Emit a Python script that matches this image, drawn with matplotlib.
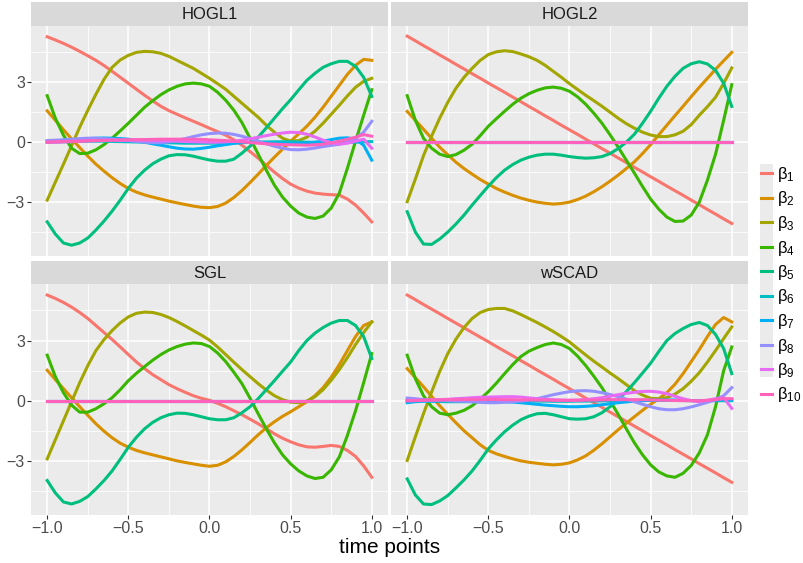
import matplotlib.pyplot as plt
from matplotlib.patches import Rectangle

plt.rcParams['font.family'] = ['Liberation Sans', 'DejaVu Sans']
plt.rcParams['mathtext.fontset'] = 'custom'
plt.rcParams['mathtext.rm'] = 'Liberation Sans'
plt.rcParams['mathtext.it'] = 'Liberation Sans:italic'

# ======================
# Data
# ======================
t = [-1.0, -0.95, -0.9, -0.85, -0.8, -0.75, -0.7, -0.65, -0.6, -0.55, -0.5,
     -0.45, -0.4, -0.35, -0.3, -0.25, -0.2, -0.15, -0.1, -0.05, 0.0,
     0.05, 0.1, 0.15, 0.2, 0.25, 0.3, 0.35, 0.4, 0.45, 0.5,
     0.55, 0.6, 0.65, 0.7, 0.75, 0.8, 0.85, 0.9, 0.95, 1.0]

zero_line = [0.0] * len(t)

# HOGL1
hogl1_b1 = [5.28, 5.12, 4.95, 4.76, 4.55, 4.33, 4.1, 3.84, 3.55, 3.25, 2.95,
            2.65, 2.35, 2.07, 1.8, 1.58, 1.4, 1.22, 1.05, 0.88, 0.7,
            0.53, 0.35, 0.12, -0.15, -0.47, -0.8, -1.15, -1.5, -1.82, -2.1,
            -2.3, -2.45, -2.55, -2.6, -2.63, -2.65, -2.85, -3.15, -3.55, -3.99]
hogl1_b2 = [1.57, 1.1, 0.62, 0.17, -0.27, -0.7, -1.1, -1.45, -1.78, -2.07, -2.32,
            -2.5, -2.64, -2.75, -2.85, -2.95, -3.04, -3.12, -3.2, -3.26, -3.28,
            -3.22, -3.05, -2.77, -2.42, -2.02, -1.6, -1.17, -0.75, -0.35, 0.05,
            0.42, 0.8, 1.25, 1.75, 2.3, 2.85, 3.4, 3.85, 4.15, 4.1]
hogl1_b3 = [-2.9, -2.0, -1.1, -0.18, 0.75, 1.6, 2.4, 3.15, 3.75, 4.12, 4.35,
            4.5, 4.55, 4.53, 4.45, 4.3, 4.1, 3.9, 3.7, 3.45, 3.2,
            2.93, 2.65, 2.3, 1.95, 1.6, 1.25, 0.85, 0.5, 0.2, 0.05,
            0.08, 0.25, 0.55, 0.95, 1.4, 1.85, 2.32, 2.75, 3.05, 3.2]
hogl1_b4 = [2.33, 1.2, 0.35, -0.3, -0.57, -0.55, -0.38, -0.12, 0.2, 0.57, 0.95,
            1.35, 1.75, 2.08, 2.38, 2.62, 2.8, 2.92, 2.96, 2.92, 2.8,
            2.5, 2.1, 1.6, 0.98, 0.2, -0.6, -1.4, -2.15, -2.75, -3.2,
            -3.55, -3.75, -3.82, -3.7, -3.3, -2.55, -1.3, 0.05, 1.35, 2.63]
hogl1_b5 = [-3.99, -4.6, -5.05, -5.16, -5.05, -4.8, -4.4, -3.95, -3.45, -2.9, -2.31,
            -1.8, -1.4, -1.08, -0.85, -0.68, -0.62, -0.63, -0.7, -0.8, -0.89,
            -0.95, -0.95, -0.85, -0.55, -0.2, 0.25, 0.72, 1.2, 1.68, 2.13,
            2.62, 3.1, 3.45, 3.75, 3.93, 4.05, 4.05, 3.8, 3.25, 2.29]
hogl1_b6 = [0, 0.01, 0.02, 0.03, 0.04, 0.05, 0.05, 0.05, 0.04, 0.03, 0.02,
            0.01, 0, -0.01, -0.02, -0.03, -0.04, -0.05, -0.05, -0.05, -0.05,
            -0.05, -0.04, -0.03, -0.02, -0.01, 0, 0.01, 0.02, 0.02, 0.02,
            0.01, 0, -0.01, -0.02, -0.02, -0.02, -0.01, 0, 0.02, 0.03]
hogl1_b7 = [0.05, 0.07, 0.1, 0.12, 0.15, 0.18, 0.2, 0.21, 0.2, 0.18, 0.15,
            0.08, 0.0, -0.08, -0.15, -0.23, -0.3, -0.34, -0.35, -0.31, -0.25,
            -0.18, -0.12, -0.06, -0.02, 0.0, 0.0, -0.02, -0.05, -0.07, -0.08,
            -0.07, -0.05, 0.0, 0.05, 0.13, 0.2, 0.22, 0.15, -0.15, -0.9]
hogl1_b8 = [0.08, 0.1, 0.12, 0.15, 0.18, 0.2, 0.2, 0.18, 0.15, 0.11, 0.08,
            0.04, 0.0, -0.02, -0.03, 0.02, 0.1, 0.18, 0.28, 0.37, 0.43,
            0.46, 0.45, 0.39, 0.3, 0.18, 0.05, -0.08, -0.2, -0.3, -0.37,
            -0.38, -0.35, -0.29, -0.22, -0.16, -0.1, 0.02, 0.2, 0.5, 1.05]
hogl1_b9 = [0, 0, 0.02, 0.03, 0.05, 0.07, 0.08, 0.09, 0.1, 0.1, 0.1,
            0.1, 0.1, 0.09, 0.08, 0.07, 0.05, 0.03, 0.02, 0.01, 0,
            0.0, 0.02, 0.05, 0.1, 0.17, 0.25, 0.33, 0.4, 0.46, 0.5,
            0.48, 0.4, 0.26, 0.1, -0.03, -0.1, -0.05, 0.05, 0.15, -0.3]
hogl1_b10 = [0, 0.02, 0.03, 0.04, 0.05, 0.07, 0.08, 0.09, 0.1, 0.11, 0.12,
             0.13, 0.13, 0.14, 0.15, 0.15, 0.15, 0.15, 0.15, 0.14, 0.12,
             0.1, 0.08, 0.05, 0.02, -0.02, -0.05, -0.08, -0.1, -0.12, -0.13,
             -0.14, -0.15, -0.13, -0.1, -0.03, 0.05, 0.15, 0.25, 0.38, 0.3]

# HOGL2
hogl2_b1 = [5.31, 5.08, 4.84, 4.61, 4.37, 4.14, 3.9, 3.67, 3.43, 3.2, 2.96,
            2.73, 2.5, 2.26, 2.03, 1.79, 1.56, 1.32, 1.09, 0.85, 0.62,
            0.39, 0.15, -0.08, -0.32, -0.55, -0.79, -1.02, -1.26, -1.49, -1.73,
            -1.96, -2.2, -2.43, -2.66, -2.9, -3.13, -3.37, -3.6, -3.84, -4.07]
hogl2_b2 = [1.54, 1.1, 0.65, 0.2, -0.25, -0.63, -1.0, -1.32, -1.6, -1.87, -2.1,
            -2.32, -2.5, -2.66, -2.8, -2.91, -3.0, -3.06, -3.1, -3.07, -3.0,
            -2.87, -2.7, -2.48, -2.23, -1.95, -1.65, -1.32, -0.98, -0.57, -0.12,
            0.37, 0.85, 1.33, 1.8, 2.28, 2.75, 3.2, 3.65, 4.08, 4.5]
hogl2_b3 = [-2.98, -1.85, -0.68, 0.3, 1.2, 2.0, 2.7, 3.25, 3.7, 4.1, 4.39,
            4.53, 4.58, 4.54, 4.42, 4.28, 4.1, 3.85, 3.55, 3.25, 2.93,
            2.64, 2.35, 2.08, 1.8, 1.5, 1.2, 0.93, 0.7, 0.5, 0.36,
            0.28, 0.28, 0.37, 0.55, 0.88, 1.35, 1.78, 2.25, 2.95, 3.72]
hogl2_b4 = [2.33, 1.1, 0.2, -0.3, -0.6, -0.72, -0.62, -0.4, -0.1, 0.33, 0.8,
            1.18, 1.55, 1.9, 2.2, 2.43, 2.6, 2.72, 2.76, 2.7, 2.55,
            2.27, 1.9, 1.45, 0.95, 0.37, -0.25, -0.9, -1.55, -2.22, -2.85,
            -3.35, -3.75, -3.97, -3.95, -3.65, -3.0, -1.9, -0.6, 1.1, 2.88]
hogl2_b5 = [-3.48, -4.5, -5.1, -5.12, -4.85, -4.5, -4.1, -3.65, -3.15, -2.67, -2.2,
            -1.77, -1.4, -1.12, -0.9, -0.75, -0.65, -0.6, -0.6, -0.65, -0.72,
            -0.77, -0.8, -0.78, -0.72, -0.57, -0.32, 0.0, 0.4, 0.95, 1.55,
            2.2, 2.8, 3.3, 3.7, 3.93, 4.03, 3.92, 3.6, 2.95, 1.79]

# SGL
sgl_b1 = [5.27, 5.1, 4.9, 4.67, 4.4, 4.1, 3.75, 3.4, 3.05, 2.68, 2.3,
          1.93, 1.6, 1.3, 1.05, 0.8, 0.6, 0.42, 0.25, 0.12, 0.02,
          -0.13, -0.3, -0.5, -0.7, -0.92, -1.15, -1.4, -1.65, -1.87, -2.05,
          -2.2, -2.3, -2.32, -2.28, -2.23, -2.28, -2.48, -2.78, -3.25, -3.82]
sgl_b2 = [1.52, 1.05, 0.6, 0.15, -0.3, -0.73, -1.15, -1.52, -1.85, -2.12, -2.32,
          -2.48, -2.6, -2.7, -2.8, -2.9, -3.0, -3.08, -3.15, -3.22, -3.27,
          -3.22, -3.05, -2.78, -2.45, -2.08, -1.7, -1.35, -1.05, -0.78, -0.55,
          -0.3, -0.05, 0.25, 0.65, 1.17, 1.8, 2.5, 3.2, 3.75, 3.93]
sgl_b3 = [-2.9, -1.95, -1.0, -0.05, 0.9, 1.75, 2.5, 3.05, 3.5, 3.88, 4.18,
          4.36, 4.42, 4.4, 4.3, 4.15, 3.95, 3.73, 3.5, 3.27, 3.02,
          2.68, 2.3, 1.92, 1.55, 1.2, 0.85, 0.53, 0.25, 0.05, -0.07,
          -0.1, -0.02, 0.2, 0.55, 1.02, 1.55, 2.15, 2.8, 3.4, 3.93]
sgl_b4 = [2.27, 1.2, 0.4, -0.22, -0.57, -0.57, -0.4, -0.15, 0.15, 0.55, 1.0,
          1.37, 1.7, 2.02, 2.3, 2.53, 2.7, 2.82, 2.88, 2.85, 2.7,
          2.38, 1.95, 1.42, 0.85, 0.12, -0.65, -1.4, -2.1, -2.7, -3.15,
          -3.5, -3.75, -3.88, -3.82, -3.45, -2.8, -1.73, -0.5, 0.9, 2.35]
sgl_b5 = [-3.98, -4.6, -5.05, -5.15, -5.02, -4.78, -4.4, -3.98, -3.5, -2.92, -2.32,
          -1.82, -1.4, -1.08, -0.85, -0.7, -0.62, -0.63, -0.7, -0.8, -0.9,
          -0.95, -0.95, -0.85, -0.6, -0.3, 0.1, 0.55, 1.0, 1.47, 1.93,
          2.5, 3.0, 3.37, 3.65, 3.87, 4.0, 4.0, 3.75, 3.2, 2.1]

# wSCAD
wscad_b1 = [5.27, 5.04, 4.8, 4.57, 4.34, 4.1, 3.87, 3.64, 3.4, 3.17, 2.94,
            2.7, 2.47, 2.24, 2.0, 1.77, 1.53, 1.3, 1.07, 0.83, 0.6,
            0.37, 0.13, -0.1, -0.33, -0.57, -0.8, -1.03, -1.27, -1.5, -1.74,
            -1.97, -2.2, -2.44, -2.67, -2.9, -3.14, -3.37, -3.6, -3.84, -4.07]
wscad_b2 = [1.6, 1.15, 0.7, 0.22, -0.25, -0.68, -1.1, -1.5, -1.85, -2.2, -2.48,
            -2.65, -2.78, -2.9, -3.0, -3.07, -3.12, -3.17, -3.2, -3.17, -3.1,
            -2.95, -2.75, -2.47, -2.15, -1.8, -1.45, -1.12, -0.8, -0.48, -0.18,
            0.1, 0.4, 0.82, 1.35, 1.95, 2.55, 3.2, 3.8, 4.15, 3.93]
wscad_b3 = [-2.98, -1.8, -0.65, 0.43, 1.46, 2.35, 3.07, 3.65, 4.1, 4.4, 4.55,
            4.6, 4.6, 4.48, 4.3, 4.1, 3.9, 3.68, 3.45, 3.2, 2.93,
            2.6, 2.28, 1.97, 1.68, 1.38, 1.1, 0.8, 0.5, 0.28, 0.12,
            0.1, 0.15, 0.33, 0.6, 0.97, 1.4, 1.93, 2.5, 3.1, 3.68]
wscad_b4 = [2.27, 1.1, 0.25, -0.3, -0.62, -0.7, -0.62, -0.48, -0.25, 0.08, 0.45,
            0.88, 1.35, 1.8, 2.2, 2.47, 2.65, 2.8, 2.88, 2.8, 2.6,
            2.22, 1.75, 1.22, 0.65, 0.0, -0.68, -1.4, -2.1, -2.7, -3.2,
            -3.55, -3.75, -3.82, -3.62, -3.23, -2.6, -1.7, -0.3, 1.5, 2.68]
wscad_b5 = [-3.9, -4.7, -5.15, -5.18, -5.0, -4.73, -4.35, -3.95, -3.5, -2.97, -2.4,
            -1.95, -1.55, -1.22, -0.95, -0.77, -0.65, -0.63, -0.7, -0.8, -0.9,
            -0.92, -0.9, -0.8, -0.6, -0.3, 0.05, 0.45, 0.9, 1.38, 1.87,
            2.45, 3.0, 3.35, 3.6, 3.8, 3.9, 3.75, 3.3, 2.6, 1.35]
wscad_b6 = [0, -0.01, -0.02, -0.03, -0.04, -0.05, -0.05, -0.05, -0.05, -0.05, -0.04,
            -0.04, -0.03, -0.02, -0.02, -0.02, -0.02, -0.02, -0.03, -0.03, -0.03,
            -0.02, -0.02, -0.01, -0.01, 0, 0, 0.01, 0.01, 0.02, 0.02,
            0.02, 0.02, 0.02, 0.01, 0, 0, 0, 0, 0, 0]
wscad_b7 = [-0.1, -0.05, -0.02, -0.01, 0.0, 0.01, 0.02, 0.02, 0.02, 0.01, 0.0,
            -0.02, -0.05, -0.07, -0.1, -0.14, -0.18, -0.22, -0.25, -0.28, -0.3,
            -0.3, -0.28, -0.25, -0.2, -0.15, -0.1, -0.06, -0.02, 0.0, 0.02,
            0.03, 0.03, 0.03, 0.02, 0.01, 0.0, 0.01, 0.02, 0.05, 0.05]
wscad_b8 = [0.13, 0.1, 0.05, 0.03, 0.02, 0.0, -0.02, -0.03, -0.05, -0.08, -0.1,
            -0.1, -0.08, -0.05, -0.02, 0.03, 0.1, 0.2, 0.3, 0.38, 0.45,
            0.49, 0.5, 0.47, 0.4, 0.31, 0.2, 0.08, -0.05, -0.18, -0.3,
            -0.4, -0.45, -0.45, -0.4, -0.31, -0.2, -0.08, 0.05, 0.25, 0.65]
wscad_b9 = [0.0, 0.02, 0.03, 0.04, 0.05, 0.07, 0.1, 0.12, 0.15, 0.17, 0.18,
            0.19, 0.2, 0.2, 0.18, 0.14, 0.1, 0.07, 0.05, 0.03, 0.02,
            0.03, 0.05, 0.1, 0.15, 0.22, 0.3, 0.37, 0.42, 0.46, 0.47,
            0.43, 0.35, 0.22, 0.1, 0.0, -0.05, 0.02, 0.1, 0.15, -0.38]
wscad_b10 = [0.0, 0.0, 0.02, 0.03, 0.04, 0.05, 0.05, 0.06, 0.06, 0.06, 0.06,
             0.06, 0.05, 0.05, 0.04, 0.04, 0.03, 0.03, 0.02, 0.02, 0.02,
             0.02, 0.03, 0.03, 0.04, 0.05, 0.05, 0.05, 0.05, 0.05, 0.04,
             0.03, 0.02, 0.01, 0.0, 0.0, 0.0, 0.02, 0.05, 0.1, 0.1]

panels = {
    'HOGL1': [hogl1_b1, hogl1_b2, hogl1_b3, hogl1_b4, hogl1_b5,
              hogl1_b6, hogl1_b7, hogl1_b8, hogl1_b9, hogl1_b10],
    'HOGL2': [hogl2_b1, hogl2_b2, hogl2_b3, hogl2_b4, hogl2_b5,
              zero_line, zero_line, zero_line, zero_line, zero_line],
    'SGL': [sgl_b1, sgl_b2, sgl_b3, sgl_b4, sgl_b5,
            zero_line, zero_line, zero_line, zero_line, zero_line],
    'wSCAD': [wscad_b1, wscad_b2, wscad_b3, wscad_b4, wscad_b5,
              wscad_b6, wscad_b7, wscad_b8, wscad_b9, wscad_b10],
}

labels = ['β$_{%d}$' % i for i in range(1, 11)]
colors = ['#F8766D', '#D89000', '#A3A500', '#39B600', '#00BF7D',
          '#00BFC4', '#00B0F6', '#9590FF', '#E76BF3', '#FF62BC']

x_ticks = [-1, -0.5, 0, 0.5, 1]
x_tick_labels = ['\u22121.0', '\u22120.5', '0.0', '0.5', '1.0']
y_ticks = [-3, 0, 3]
y_tick_labels = ['\u22123', '0', '3']

# ======================
# Layout (pixels)
# ======================
W, H = 804, 563
fig = plt.figure(figsize=(W / 100, H / 100), dpi=100)


def box(x0, y0, x1, y1):
    return [x0 / W, 1 - y1 / H, (x1 - x0) / W, (y1 - y0) / H]


layout = {
    'HOGL1': ((31, 26, 388, 256), 2, True, False),
    'HOGL2': ((391, 26, 748, 256), 2, False, False),
    'SGL': ((31, 284, 388, 515), 261, True, True),
    'wSCAD': ((391, 284, 748, 515), 261, False, True),
}

handles = []
for name, ((x0, y0, x1, y1), sy, show_y, show_x) in layout.items():
    ax = fig.add_axes(box(x0, y0, x1, y1))
    ax.set_facecolor('#EBEBEB')
    for s in ax.spines.values():
        s.set_visible(False)
    ax.set_xlim(-1.1, 1.1)
    ax.set_ylim(-5.7, 5.82)
    ax.set_xticks(x_ticks)
    ax.set_xticks([-0.75, -0.25, 0.25, 0.75], minor=True)
    ax.set_yticks(y_ticks)
    ax.set_yticks([-4.5, -1.5, 1.5, 4.5], minor=True)
    ax.grid(which='major', color='white', lw=1.1)
    ax.grid(which='minor', color='white', lw=0.55)
    ax.set_axisbelow(True)
    ax.tick_params(which='minor', length=0)
    ax.tick_params(which='major', length=2.9, width=0.8, color='#333333',
                   labelcolor='#4D4D4D', labelsize=11.5, pad=1.5)

    if show_x:
        ax.set_xticklabels(x_tick_labels)
    else:
        ax.tick_params(axis='x', which='major', length=0, labelbottom=False)
    if show_y:
        ax.set_yticklabels(y_tick_labels)
    else:
        ax.tick_params(axis='y', which='major', length=0, labelleft=False)

    for vals, c, lab in zip(panels[name], colors, labels):
        ln, = ax.plot(t, vals, color=c, lw=2.2, label=lab,
                      solid_joinstyle='round')
        if name == 'HOGL1':
            handles.append(ln)

    # strip
    sax = fig.add_axes(box(x0, sy, x1, y0))
    sax.set_facecolor('#D9D9D9')
    sax.set_xticks([])
    sax.set_yticks([])
    for s in sax.spines.values():
        s.set_visible(False)
    sax.text(0.5, 0.47, name, ha='center', va='center', fontsize=12,
             color='#1A1A1A', transform=sax.transAxes)

# axis title
fig.text(389.5 / W, 1 - 553 / H, 'time points', ha='center', va='baseline',
         fontsize=15, color='black')

# legend
fig.patches.append(Rectangle((760 / W, 1 - 377 / H), 13 / W, 213 / H,
                             transform=fig.transFigure, facecolor='#EBEBEB',
                             edgecolor='none', zorder=0))
fig.legend(handles, labels, loc='upper left', bbox_to_anchor=(761 / W, 1 - 165 / H),
           frameon=False, fontsize=12, handlelength=0.68, handletextpad=0.3,
           labelspacing=0.33, borderpad=0, borderaxespad=0)

fig.savefig('out.png', dpi=100)
